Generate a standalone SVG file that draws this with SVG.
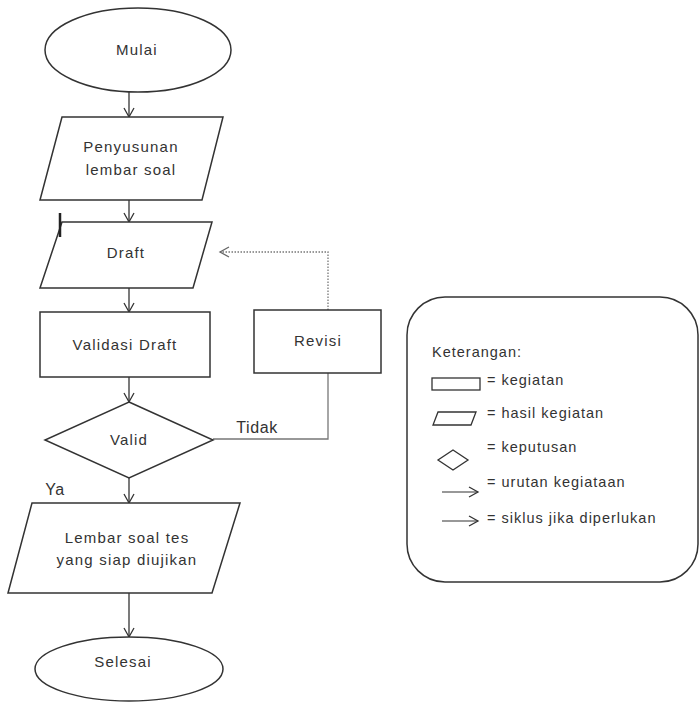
<svg xmlns="http://www.w3.org/2000/svg" width="700" height="702" viewBox="0 0 700 702">
<defs>
<marker id="arr" markerWidth="12" markerHeight="12" refX="10" refY="6" orient="auto" markerUnits="userSpaceOnUse">
<path d="M1,1 L10,6 L1,11" fill="none" stroke="#333" stroke-width="1.3"/>
</marker>
<marker id="arrg" markerWidth="12" markerHeight="12" refX="10" refY="6" orient="auto" markerUnits="userSpaceOnUse">
<path d="M1,1 L10,6 L1,11" fill="none" stroke="#666" stroke-width="1.3"/>
</marker>
<style>
.s{fill:#fff;stroke:#333;stroke-width:1.5}
.t{font-family:"Liberation Sans",Arial,sans-serif;font-size:15px;fill:#333;text-anchor:middle;letter-spacing:1.2px}
.l{font-family:"Liberation Sans",Arial,sans-serif;font-size:14.5px;fill:#333;letter-spacing:1px}
.c{fill:none;stroke:#333;stroke-width:1.3}
.d{fill:none;stroke:#777;stroke-width:1.3}
</style>
</defs>
<rect width="700" height="702" fill="#fff"/>
<g id="connectors">
<line class="c" x1="129" y1="92" x2="129" y2="117" marker-end="url(#arr)"/>
<line class="c" x1="129" y1="200" x2="129" y2="222" marker-end="url(#arr)"/>
<line class="c" x1="129" y1="288" x2="129" y2="312" marker-end="url(#arr)"/>
<line class="c" x1="129" y1="377" x2="129" y2="402" marker-end="url(#arr)"/>
<line class="c" x1="129" y1="478" x2="129" y2="503" marker-end="url(#arr)"/>
<line class="c" x1="129" y1="593" x2="129" y2="637" marker-end="url(#arr)"/>
<polyline class="d" points="213,439 328,439 328,373"/>
<polyline class="d" stroke-dasharray="1.5,1.5" points="328,310 328,252 220,252" marker-end="url(#arrg)"/>
<text class="t" x="257" y="433" style="font-size:16px;letter-spacing:0.6px">Tidak</text>
<text class="t" x="55" y="495" style="font-size:16px;letter-spacing:0.6px">Ya</text>
</g>
<g id="mulai">
<ellipse class="s" cx="138" cy="50" rx="93" ry="42"/>
<text class="t" x="137" y="55">Mulai</text>
</g>
<g id="penyusunan">
<polygon class="s" points="62,117 223,117 202,200 40,200"/>
<text class="t" x="131" y="152">Penyusunan</text>
<text class="t" x="131" y="175">lembar soal</text>
</g>
<g id="draft">
<polygon class="s" points="62,222 212,222 193,288 40,288"/>
<line x1="60" y1="213" x2="60" y2="237" stroke="#222" stroke-width="2.5"/>
<text class="t" x="126" y="258">Draft</text>
</g>
<g id="validasi">
<rect class="s" x="40" y="312" width="170" height="65"/>
<text class="t" x="125" y="350">Validasi Draft</text>
</g>
<g id="valid">
<polygon class="s" points="129,402 213,440 129,478 45,440"/>
<text class="t" x="129" y="445">Valid</text>
</g>
<g id="revisi">
<rect class="s" x="254" y="310" width="127" height="63"/>
<text class="t" x="318" y="346">Revisi</text>
</g>
<g id="lembar">
<polygon class="s" points="32,503 240,503 212,593 8,593"/>
<text class="t" x="127" y="543">Lembar soal tes</text>
<text class="t" x="127" y="565">yang siap diujikan</text>
</g>
<g id="selesai">
<ellipse class="s" cx="129" cy="669" rx="94" ry="32"/>
<text class="t" x="123" y="667">Selesai</text>
</g>
<g id="legend">
<rect x="407" y="297" width="291" height="285" rx="38" ry="38" fill="#fff" stroke="#333" stroke-width="1.5"/>
<text class="l" x="432" y="357">Keterangan:</text>
<rect x="432" y="378" width="48" height="12" fill="#fff" stroke="#333" stroke-width="1.3"/>
<text class="l" x="487" y="385">= kegiatan</text>
<polygon points="438,412 476,412 471,425 433,425" fill="#fff" stroke="#333" stroke-width="1.3"/>
<text class="l" x="487" y="418">= hasil kegiatan</text>
<polygon points="453,450 468,460 453,470 438,460" fill="#fff" stroke="#333" stroke-width="1.3"/>
<text class="l" x="487" y="452">= keputusan</text>
<line x1="442" y1="492" x2="478" y2="492" stroke="#333" stroke-width="1.2" marker-end="url(#arr)"/>
<text class="l" x="487" y="487">= urutan kegiataan</text>
<line x1="442" y1="521" x2="478" y2="521" stroke="#333" stroke-width="1.2" marker-end="url(#arr)"/>
<text class="l" x="487" y="523">= siklus jika diperlukan</text>
</g>
</svg>
